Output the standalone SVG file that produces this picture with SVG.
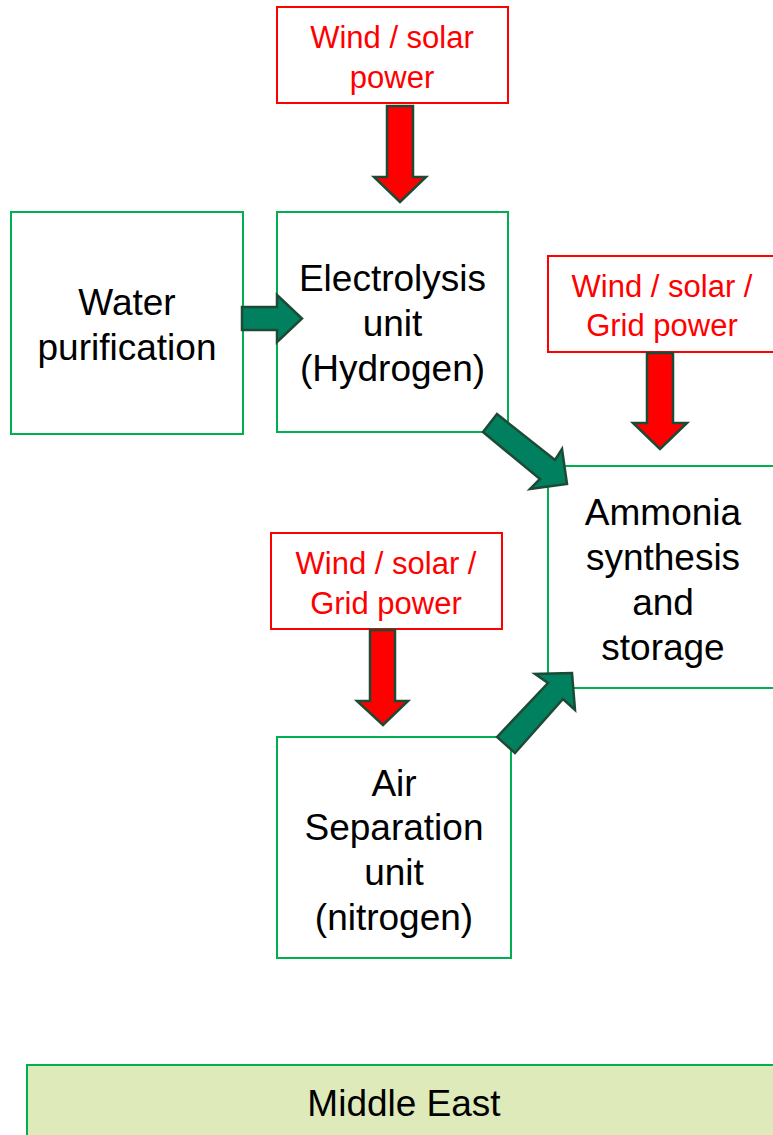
<svg xmlns="http://www.w3.org/2000/svg" width="773" height="1135" viewBox="0 0 773 1135">
<style>
.box{fill:#ffffff;stroke:#00b050;stroke-width:2}
.pbox{fill:#ffffff;stroke:#ff0000;stroke-width:2}
.t{font-family:"Liberation Sans",Arial,sans-serif;font-size:37px;fill:#000000;text-anchor:middle}
.rt{font-family:"Liberation Sans",Arial,sans-serif;font-size:31px;fill:#ff0000;text-anchor:middle}
.ga{fill:#00805f;stroke:#1d4a35;stroke-width:2.5;stroke-linejoin:miter}
.ra{fill:#ff0000;stroke:#1d4a35;stroke-width:2.5;stroke-linejoin:miter}
</style>
<rect width="773" height="1135" fill="#ffffff"/>
<g id="power1">
<rect class="pbox" x="277" y="7" width="231" height="96"/>
<text class="rt" x="392" y="48">Wind / solar</text>
<text class="rt" x="392" y="88">power</text>
</g>
<g id="power2">
<rect class="pbox" x="548" y="256" width="232" height="96"/>
<text class="rt" x="662" y="297">Wind / solar /</text>
<text class="rt" x="662" y="336">Grid power</text>
</g>
<g id="power3">
<rect class="pbox" x="271" y="533" width="231" height="96"/>
<text class="rt" x="386" y="574">Wind / solar /</text>
<text class="rt" x="386" y="614">Grid power</text>
</g>
<g id="water">
<rect class="box" x="11" y="212" width="232" height="222"/>
<text class="t" x="127" y="315">Water</text>
<text class="t" x="127" y="360">purification</text>
</g>
<g id="electrolysis">
<rect class="box" x="277" y="212" width="231" height="220"/>
<text class="t" x="392.5" y="291">Electrolysis</text>
<text class="t" x="392.5" y="336">unit</text>
<text class="t" x="392.5" y="381">(Hydrogen)</text>
</g>
<g id="ammonia">
<rect class="box" x="548" y="466" width="232" height="222"/>
<text class="t" x="663" y="524.5">Ammonia</text>
<text class="t" x="663" y="569.5">synthesis</text>
<text class="t" x="663" y="614.5">and</text>
<text class="t" x="663" y="659.5">storage</text>
</g>
<g id="air">
<rect class="box" x="277" y="737" width="234" height="221"/>
<text class="t" x="394" y="796">Air</text>
<text class="t" x="394" y="840">Separation</text>
<text class="t" x="394" y="885">unit</text>
<text class="t" x="394" y="930">(nitrogen)</text>
</g>
<g id="region">
<rect x="27" y="1065" width="760" height="90" fill="#dfeaba" stroke="#00b050" stroke-width="2"/>
<text class="t" x="404" y="1116">Middle East</text>
</g>
<g id="connectors">
<polygon class="ra" points="387,106 413,106 413,177 426,177 400,202 374,177 387,177"/>
<polygon class="ra" points="647,353 673,353 673,423 687,423 660,449 633,423 647,423"/>
<polygon class="ra" points="370,630 395,630 395,701 408,701 383,725 357,701 370,701"/>
<polygon class="ga" points="242,307 277,307 277,295 302,318.5 277,342 277,330 242,330"/>
<polygon class="ga" points="483,432 497,414 555,460 562,449 567,484 530,489 540,479"/>
<polygon class="ga" points="497,737 548,683 535,674 572,673 575,710 563,699 515,753"/>
</g>
</svg>
